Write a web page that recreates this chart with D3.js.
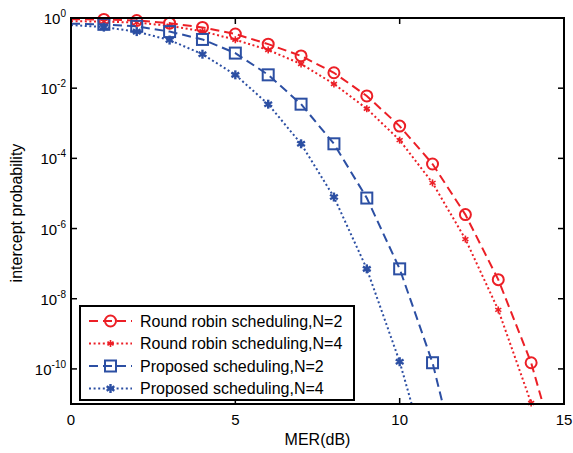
<!DOCTYPE html>
<html>
<head>
<meta charset="utf-8">
<script src="https://d3js.org/d3.v7.min.js"></script>
<style>
  body { margin: 0; background: #fff; }
  svg { display: block; font-family: "Liberation Sans", Arial, Helvetica, sans-serif; }
</style>
</head>
<body>
<script>
// MER in dB, one value per marker position
var mer = [0, 1, 2, 3, 4, 5, 6, 7, 8, 9, 10, 11, 12, 13, 14, 15];

// intercept probability
var rrN2 = [0.92, 0.91, 0.85, 0.71, 0.54, 0.35, 0.18, 8.3e-2, 2.75e-2, 6.0e-3, 8.3e-4, 6.9e-5, 2.5e-6, 3.5e-8, 1.5e-10, 8e-14];
var rrN4 = [0.81, 0.79, 0.74, 0.60, 0.42, 0.24, 0.123, 4.9e-2, 1.32e-2, 2.6e-3, 3.3e-4, 2.0e-5, 5.0e-7, 4.8e-9, 1.07e-11, 1e-14];
var propN2 = [0.69, 0.66, 0.58, 0.41, 0.245, 0.10, 2.4e-2, 3.5e-3, 2.6e-4, 7.4e-6, 7.1e-8, 1.5e-10, 2.5e-14];
var propN4 = [0.63, 0.55, 0.41, 0.235, 9.3e-2, 2.4e-2, 3.5e-3, 2.6e-4, 7.9e-6, 7.1e-8, 1.6e-10, 8e-14];

var seriesNames = ["Round robin scheduling,N=2", "Round robin scheduling,N=4",
                   "Proposed scheduling,N=2", "Proposed scheduling,N=4"];

var xTicks = [0, 5, 10, 15];
var yTickExps = [0, -2, -4, -6, -8, -10];

var red = "#ec1f26", blue = "#2c4fa3";

var series = [
  {name: seriesNames[0], values: rrN2, color: red, dash: "9,5", marker: "circle"},
  {name: seriesNames[1], values: rrN4, color: red, dash: "2,2.6", marker: "xstar"},
  {name: seriesNames[2], values: propN2, color: blue, dash: "9,5", marker: "square"},
  {name: seriesNames[3], values: propN4, color: blue, dash: "2,2.6", marker: "star"}
];

var margin = {top: 18, right: 9, bottom: 49, left: 71},
    width = 573 - margin.left - margin.right,
    height = 453 - margin.top - margin.bottom;

var xScale = d3.scaleLinear().domain([0, 15]).range([0, width]);
var yScale = d3.scaleLog().domain([1e-11, 1]).range([height, 0]);

var svg = d3.select("body").append("svg")
    .attr("width", 573)
    .attr("height", 453);

var g = svg.append("g")
    .attr("transform", "translate(" + margin.left + "," + margin.top + ")");

g.append("clipPath").attr("id", "plotclip")
  .append("rect").attr("width", width).attr("height", height);

var line = d3.line()
    .x(function(d) { return xScale(d.x); })
    .y(function(d) { return yScale(d.y); });

// draws one marker shape at 0,0
function drawMarker(sel, type, color) {
  if (type == "circle") {
    sel.append("circle").attr("r", 5.5)
      .attr("fill", "none").attr("stroke", color).attr("stroke-width", 2);
  } else if (type == "square") {
    sel.append("rect").attr("x", -5.5).attr("y", -5.5)
      .attr("width", 11).attr("height", 11)
      .attr("fill", "none").attr("stroke", color).attr("stroke-width", 2);
  } else {
    var r = type == "star" ? 4.5 : 3.5;
    var sw = type == "star" ? 2.4 : 1.6;
    [0, 60, 120].forEach(function(a) {
      var t = (a + 90) * Math.PI / 180;
      sel.append("line")
        .attr("x1", -r * Math.cos(t)).attr("y1", -r * Math.sin(t))
        .attr("x2", r * Math.cos(t)).attr("y2", r * Math.sin(t))
        .attr("stroke", color).attr("stroke-width", sw);
    });
  }
}

// curves
series.forEach(function(s) {
  var pts = s.values.map(function(v, i) { return {x: mer[i], y: v}; });

  g.append("path")
    .datum(pts)
    .attr("clip-path", "url(#plotclip)")
    .attr("d", line)
    .attr("fill", "none")
    .attr("stroke", s.color)
    .attr("stroke-width", 2)
    .attr("stroke-dasharray", s.dash);

  var shown = pts.filter(function(d) { return d.x > 0 && d.y >= 1e-11; });
  g.append("g").selectAll("g")
    .data(shown)
    .enter().append("g")
    .attr("transform", function(d) { return "translate(" + xScale(d.x) + "," + yScale(d.y) + ")"; })
    .each(function() { drawMarker(d3.select(this), s.marker, s.color); });
});

// frame and ticks
g.append("rect")
  .attr("width", width).attr("height", height)
  .attr("fill", "none").attr("stroke", "#000").attr("stroke-width", 2);

var tickLen = 6;
xTicks.forEach(function(t) {
  var x = xScale(t);
  g.append("line").attr("x1", x).attr("x2", x).attr("y1", height).attr("y2", height - tickLen)
    .attr("stroke", "#000").attr("stroke-width", 1.5);
  g.append("line").attr("x1", x).attr("x2", x).attr("y1", 0).attr("y2", tickLen)
    .attr("stroke", "#000").attr("stroke-width", 1.5);
  g.append("text")
    .attr("x", x).attr("y", height + 21)
    .attr("text-anchor", "middle")
    .attr("font-size", 15)
    .text(t);
});

yTickExps.forEach(function(e) {
  var y = yScale(Math.pow(10, e));
  g.append("line").attr("x1", 0).attr("x2", tickLen).attr("y1", y).attr("y2", y)
    .attr("stroke", "#000").attr("stroke-width", 1.5);
  g.append("line").attr("x1", width).attr("x2", width - tickLen).attr("y1", y).attr("y2", y)
    .attr("stroke", "#000").attr("stroke-width", 1.5);
  var txt = g.append("text")
    .attr("x", -5).attr("y", y + 6)
    .attr("text-anchor", "end")
    .attr("font-size", 15);
  txt.append("tspan").text("10");
  txt.append("tspan").attr("dy", -7).attr("font-size", 10).text(e);
});

// axis labels
g.append("text")
  .attr("x", width / 2).attr("y", height + 41)
  .attr("text-anchor", "middle")
  .attr("font-size", 16)
  .text("MER(dB)");

g.append("text")
  .attr("transform", "translate(" + (-49) + "," + (height / 2 + 2) + ") rotate(-90)")
  .attr("text-anchor", "middle")
  .attr("font-size", 16)
  .text("intercept probability");

// legend
var legend = g.append("g").attr("transform", "translate(9,288)");
legend.append("rect")
  .attr("width", 274).attr("height", 94)
  .attr("fill", "#fff").attr("stroke", "#000").attr("stroke-width", 2);

series.forEach(function(s, i) {
  var ly = 15 + i * 22.5;
  legend.append("line")
    .attr("x1", 9).attr("x2", 52).attr("y1", ly).attr("y2", ly)
    .attr("stroke", s.color).attr("stroke-width", 2)
    .attr("stroke-dasharray", s.dash);
  var m = legend.append("g").attr("transform", "translate(30.5," + ly + ")");
  drawMarker(m, s.marker, s.color);
  legend.append("text")
    .attr("x", 60).attr("y", ly + 5.5)
    .attr("font-size", 16)
    .text(s.name);
});
</script>
</body>
</html>
